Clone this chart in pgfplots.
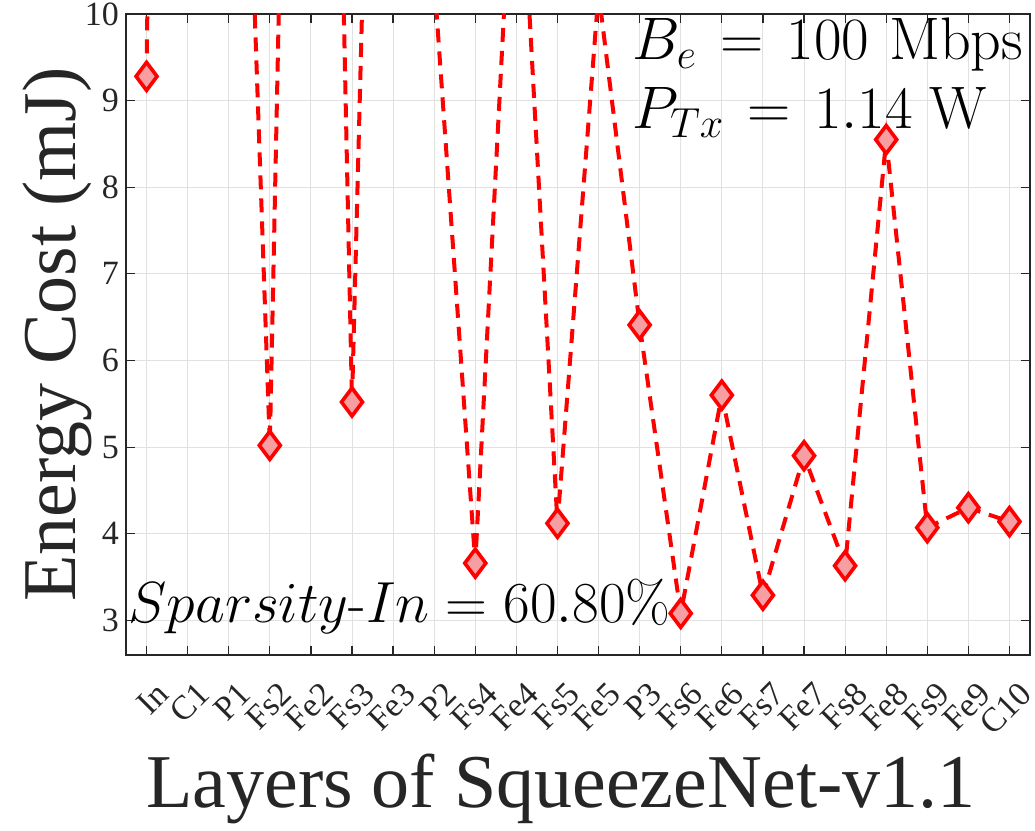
\RequirePackage{fix-cm}
\documentclass[border=0pt]{standalone}
\usepackage{amsmath}
\usepackage[no-math]{fontspec}
\setmainfont{Liberation Serif}
\newfontfamily\lmr{Latin Modern Roman}
\usepackage{pgfplots}
\pgfplotsset{compat=1.18}

\definecolor{axgray}{RGB}{38,38,38}
\definecolor{gridgray}{RGB}{225,225,225}
\definecolor{markfill}{RGB}{246,158,162}

\begin{document}
\begin{tikzpicture}
\begin{axis}[
  name=ax,
  scale only axis,
  width=452pt, height=320.5pt,
  xmin=-0.5, xmax=21.5,
  ymin=2.6, ymax=10,
  xtick={0,...,21},
  xticklabels={In,C1,P1,Fs2,Fe2,Fs3,Fe3,P2,Fs4,Fe4,Fs5,Fe5,P3,Fs6,Fe6,Fs7,Fe7,Fs8,Fe8,Fs9,Fe9,C10},
  ytick={3,4,...,10},
  grid=major,
  major grid style={gridgray, line width=0.5pt},
  tick align=inside,
  tick pos=both,
  major tick length=4.5pt,
  axis line style={axgray, line width=0.6pt},
  every tick/.style={axgray, line width=0.6pt},
  /pgf/number format/assume math mode=true,
  tick label style={font=\fontsize{17}{17}\selectfont, text=axgray},
  xticklabel style={xshift=9pt, yshift=-16pt, rotate=45, anchor=east, inner sep=1pt},
  xlabel={Layers of SqueezeNet-v1.1},
  ylabel={Energy Cost (mJ)},
  label style={font=\fontsize{38}{38}\selectfont, text=axgray},
  xlabel style={at={(axis description cs:0.481,-0.2387)}, anchor=base},
  ylabel style={at={(axis description cs:-0.0564,0.5)}, anchor=base, rotate=0},
  clip marker paths=false,
]
\addplot[
  red, line width=2pt, dash pattern=on 7pt off 4.5pt,
  mark=diamond*, mark size=7pt,
  mark options={solid, draw=red, fill=markfill, line width=1.8pt},
] coordinates {
  (0,9.28) (1,48) (2,18.6) (3,5.02) (4,28) (5,5.52) (6,24) (7,10.4)
  (8,3.66) (9,12.75) (10,4.12) (11,10.25) (12,6.41) (13,3.08) (14,5.60)
  (15,3.29) (16,4.90) (17,3.63) (18,8.55) (19,4.07) (20,4.30) (21,4.14)
};
\node[anchor=base west, inner sep=0pt, font=\fontsize{30}{30}\selectfont]
  at (axis cs:11.81,9.47) {$B_e \mkern2mu= \mkern2mu100\mkern6mu\mathrm{Mbps}$};
\node[anchor=base west, inner sep=0pt, font=\fontsize{30}{30}\selectfont]
  at (axis cs:11.81,8.68) {$P_{Tx} \mkern2mu= \mkern2mu1.14\mkern5mu\mathrm{W}$};
\node[anchor=base west, inner sep=0pt, font=\fontsize{29}{29}\selectfont]
  at (axis cs:-0.45,2.98) {$Sparsity\text{\lmr -}In = 60.80\%$};
\end{axis}
\pgfresetboundingbox
\path[use as bounding box] ([shift={(-63pt,-88pt)}]ax.south west) rectangle ([shift={(2.5pt,7pt)}]ax.north east);
\end{tikzpicture}
\end{document}
